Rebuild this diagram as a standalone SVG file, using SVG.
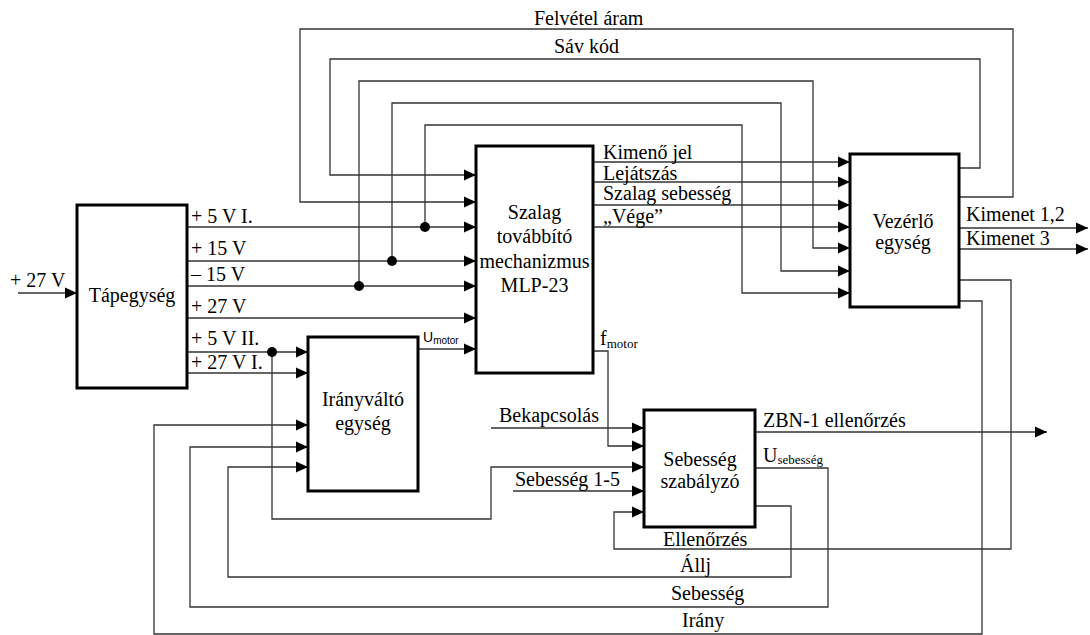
<svg xmlns="http://www.w3.org/2000/svg" width="1090" height="635" viewBox="0 0 1090 635">
<style>
.box{fill:#fff;stroke:#000;stroke-width:3}
.ln{fill:none;stroke:#333;stroke-width:1.3}
.t{font-family:"Liberation Serif","Times New Roman",serif;font-size:20px;fill:#000}
.c{text-anchor:middle}
.s{font-family:"Liberation Sans",Arial,sans-serif;fill:#000}
</style>
<defs>
<marker id="ar" markerUnits="userSpaceOnUse" markerWidth="13" markerHeight="12" refX="12" refY="6" orient="auto">
<path d="M0,0.5 L12,6 L0,11.5 z" fill="#000"/>
</marker>
</defs>
<rect width="1090" height="635" fill="#fff"/>
<g id="connectors">
<path class="ln" d="M959,197 H1013 V29 H300 V202 H476" marker-end="url(#ar)"/>
<path class="ln" d="M959,168 H980 V59 H330 V175 H476" marker-end="url(#ar)"/>
<path class="ln" d="M187,227 H476" marker-end="url(#ar)"/>
<path class="ln" d="M425,227 V125 H742 V293 H850" marker-end="url(#ar)"/>
<path class="ln" d="M187,261 H476" marker-end="url(#ar)"/>
<path class="ln" d="M392,261 V103 H781 V271 H850" marker-end="url(#ar)"/>
<path class="ln" d="M187,286 H476" marker-end="url(#ar)"/>
<path class="ln" d="M359,286 V81 H813 V248 H850" marker-end="url(#ar)"/>
<path class="ln" d="M187,318 H476" marker-end="url(#ar)"/>
<path class="ln" d="M187,352 H308" marker-end="url(#ar)"/>
<path class="ln" d="M272,352 V519 H491 V467 H644" marker-end="url(#ar)"/>
<path class="ln" d="M187,373 H308" marker-end="url(#ar)"/>
<path class="ln" d="M418,349 H476" marker-end="url(#ar)"/>
<path class="ln" d="M593,162 H850" marker-end="url(#ar)"/>
<path class="ln" d="M593,182 H850" marker-end="url(#ar)"/>
<path class="ln" d="M593,205 H850" marker-end="url(#ar)"/>
<path class="ln" d="M593,227 H850" marker-end="url(#ar)"/>
<path class="ln" d="M959,228 H1088" marker-end="url(#ar)"/>
<path class="ln" d="M959,249 H1088" marker-end="url(#ar)"/>
<path class="ln" d="M18,293 H77" marker-end="url(#ar)"/>
<path class="ln" d="M593,351 H608 V446 H644" marker-end="url(#ar)"/>
<path class="ln" d="M491,428 H644" marker-end="url(#ar)"/>
<path class="ln" d="M513,491 H644" marker-end="url(#ar)"/>
<path class="ln" d="M959,280 H1011 V549 H614 V512 H644" marker-end="url(#ar)"/>
<path class="ln" d="M755,432 H1047" marker-end="url(#ar)"/>
<path class="ln" d="M755,506 H791 V577 H228 V467 H308" marker-end="url(#ar)"/>
<path class="ln" d="M755,468 H828 V607 H190 V447 H308" marker-end="url(#ar)"/>
<path class="ln" d="M959,301 H982 V634 H154 V425 H308" marker-end="url(#ar)"/>
<circle cx="425" cy="227" r="5" fill="#000"/>
<circle cx="392" cy="261" r="5" fill="#000"/>
<circle cx="359" cy="286" r="5" fill="#000"/>
<circle cx="272" cy="352" r="5" fill="#000"/>
</g>
<g id="labels">
<text class="t" x="534" y="25">Felvétel áram</text>
<text class="t" x="554" y="53">Sáv kód</text>
<text class="t" x="603" y="159">Kimenő jel</text>
<text class="t" x="603" y="180">Lejátszás</text>
<text class="t" x="603" y="200">Szalag sebesség</text>
<text class="t" x="603" y="223">„Vége”</text>
<text class="t" x="966" y="221">Kimenet 1,2</text>
<text class="t" x="966" y="245">Kimenet 3</text>
<text class="t" x="10" y="287">+ 27 V</text>
<text class="t" x="191" y="223">+ 5 V I.</text>
<text class="t" x="191" y="255">+ 15 V</text>
<text class="t" x="191" y="281">– 15 V</text>
<text class="t" x="191" y="313">+ 27 V</text>
<text class="t" x="191" y="345">+ 5 V II.</text>
<text class="t" x="191" y="369">+ 27 V I.</text>
<text class="s" x="423" y="342"><tspan font-size="14">U</tspan><tspan font-size="10" dy="2">motor</tspan></text>
<text class="t" x="600" y="345">f<tspan font-size="13" dy="3">motor</tspan></text>
<text class="t" x="499" y="422">Bekapcsolás</text>
<text class="t" x="515" y="486">Sebesség 1-5</text>
<text class="t" x="763" y="427">ZBN-1 ellenőrzés</text>
<text class="t" x="763" y="462">U<tspan font-size="13" dy="2">sebesség</tspan></text>
<text class="t" x="663" y="546">Ellenőrzés</text>
<text class="t" x="680" y="572">Állj</text>
<text class="t" x="671" y="600">Sebesség</text>
<text class="t" x="682" y="627">Irány</text>
</g>
<g id="tapegyseg">
<rect class="box" x="77" y="205" width="110" height="183"/>
<text class="t c" x="132" y="302">Tápegység</text>
</g>
<g id="szalag">
<rect class="box" x="476" y="146" width="117" height="227"/>
<text class="t c" x="534.5" y="219">Szalag</text>
<text class="t c" x="534.5" y="243">továbbító</text>
<text class="t c" x="534.5" y="268">mechanizmus</text>
<text class="t c" x="534.5" y="292">MLP-23</text>
</g>
<g id="vezerlo">
<rect class="box" x="850" y="154" width="109" height="153"/>
<text class="t c" x="903" y="228">Vezérlő</text>
<text class="t c" x="903" y="249">egység</text>
</g>
<g id="iranyvalto">
<rect class="box" x="308" y="337" width="110" height="154"/>
<text class="t c" x="363" y="406">Irányváltó</text>
<text class="t c" x="363" y="430">egység</text>
</g>
<g id="sebesseg">
<rect class="box" x="644" y="410" width="111" height="117"/>
<text class="t c" x="700" y="466">Sebesség</text>
<text class="t c" x="700" y="488">szabályzó</text>
</g>
</svg>
